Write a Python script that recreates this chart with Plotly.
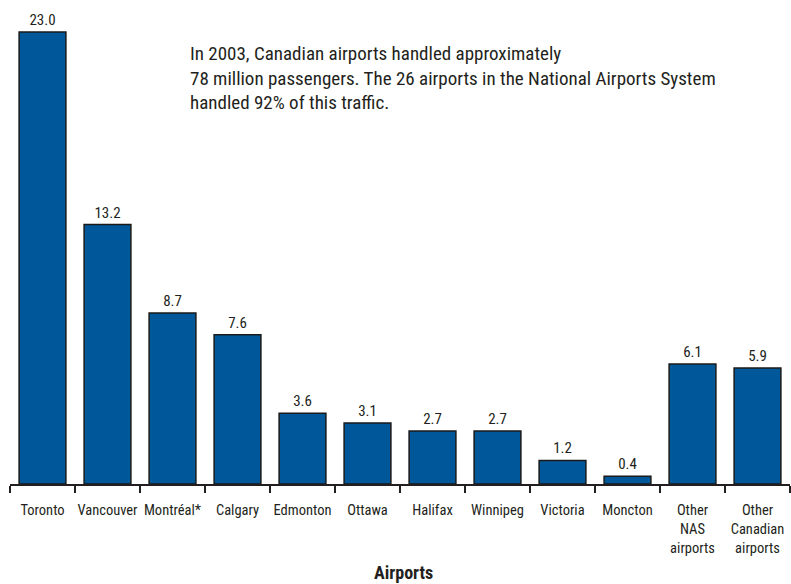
import plotly.graph_objects as go

categories = ["Toronto", "Vancouver", "Montréal*", "Calgary", "Edmonton", "Ottawa",
              "Halifax", "Winnipeg", "Victoria", "Moncton", "Other<br>NAS<br>airports",
              "Other<br>Canadian<br>airports"]
passengers = [23.0, 13.2, 8.7, 7.6, 3.6, 3.1, 2.7, 2.7, 1.2, 0.4, 6.1, 5.9]
value_labels = [f"{v:.1f}" for v in passengers]

FONT = "Roboto Condensed, Liberation Sans Narrow, Roboto, sans-serif"

fig = go.Figure(go.Bar(
    x=categories, y=passengers,
    text=value_labels, textposition="outside",
    textfont=dict(size=15, color="#231f20", family=FONT),
    marker=dict(color="#00589B", line=dict(color="#1a1a1a", width=1.5)),
    width=0.72, cliponaxis=False, hoverinfo="skip",
))

fig.update_layout(
    width=791, height=584,
    margin=dict(l=10, r=1, t=10, b=100),
    plot_bgcolor="white", paper_bgcolor="white",
    font=dict(family=FONT, size=14, color="#231f20"),
    showlegend=False,
    xaxis=dict(
        type="category", tickson="boundaries", ticks="outside", ticklen=7,
        tickwidth=1.5, tickcolor="#231f20", showline=True, linecolor="#231f20",
        linewidth=2, showgrid=False, tickfont=dict(size=14.5), tickangle=0,
        automargin=False, ticklabelstandoff=12,
    ),
    yaxis=dict(range=[0, 24.12], visible=False, showgrid=False),
    annotations=[
        dict(
            text="In 2003, Canadian airports handled approximately<br>78 million passengers. The 26 airports in the National Airports System<br>handled 92% of this traffic.",
            xref="paper", yref="paper", x=(188-10)/780, y=1 - (40-10)/474,
            xanchor="left", yanchor="top", align="left", showarrow=False,
            font=dict(size=19, color="#231f20", family=FONT),
        ),
        dict(
            text="<b>Airports</b>", xref="paper", yref="paper",
            x=(403-10)/780, y=-(572-484)/474, xanchor="center", yanchor="middle",
            showarrow=False, font=dict(size=18, color="#231f20", family=FONT),
        ),
    ],
)

fig.write_html("out.html", config={"displayModeBar": False},
               post_script="document.body.style.margin='0';")
